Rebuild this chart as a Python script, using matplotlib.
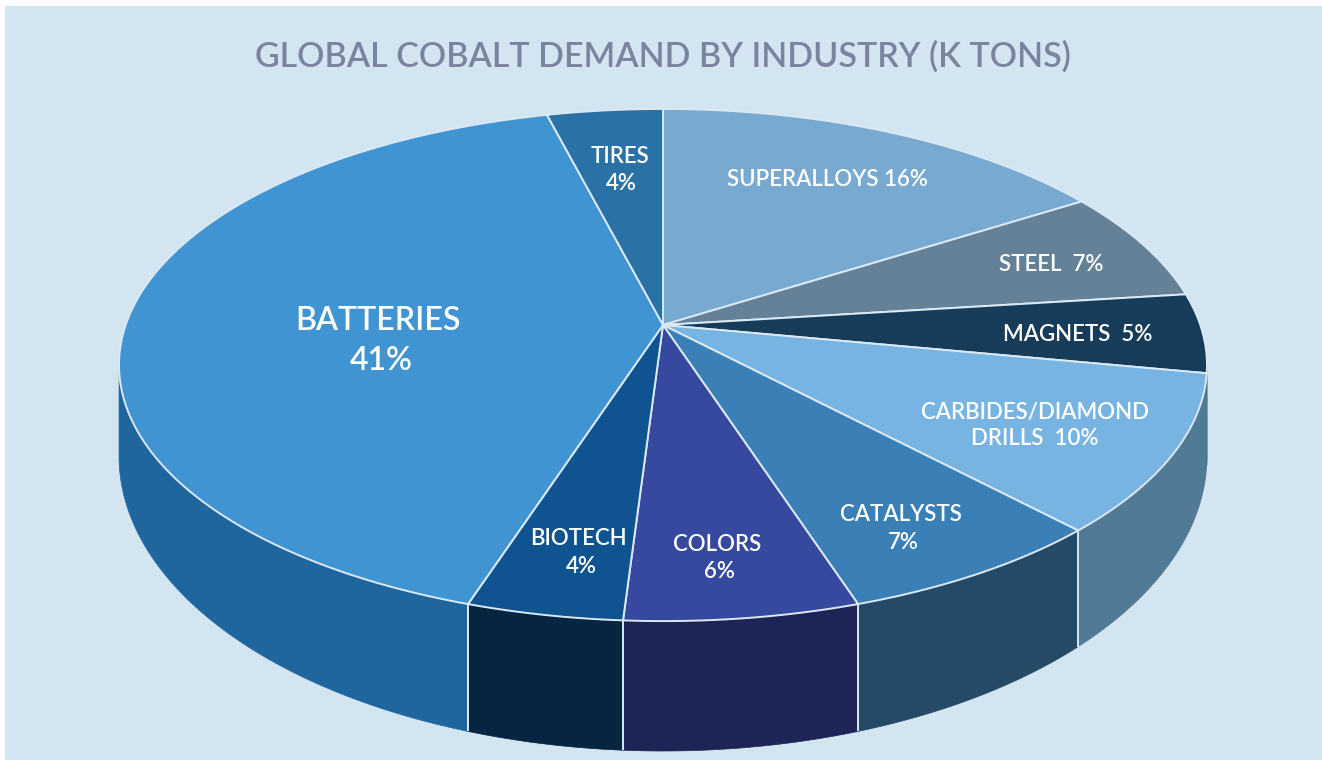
"""Global cobalt demand by industry: a pie seen in perspective, with a side wall."""
import matplotlib
matplotlib.use("Agg")
import matplotlib.pyplot as plt
import numpy as np
from matplotlib.patches import Polygon, Rectangle

plt.rcParams["font.family"] = ["Lato", "DejaVu Sans"]

# ── Data ─────────────────────────────────────────────────────────────────────
TITLE = "GLOBAL COBALT DEMAND BY INDUSTRY (K TONS)"
INDUSTRIES = ["Superalloys", "Steel", "Magnets", "Carbides/Diamond Drills",
              "Catalysts", "Colors", "Biotech", "Batteries", "Tires"]
SHARES = [16, 7, 5, 10, 7, 6, 4, 41, 4]

# ── Style ────────────────────────────────────────────────────────────────────
BG = "#D4E5F2"
EDGE = "#DAE8F3"
TOP_COLORS = ["#78A9D0", "#648198", "#163C59", "#78B4E2", "#3A80B7",
              "#37489F", "#0F5490", "#4094D2", "#2A71A6"]
WALL_COLORS = ["#78A9D0", "#648198", "#163C59", "#507A96", "#244A67",
               "#1C2555", "#052540", "#1F669F", "#2A71A6"]

# labels: text, x, y, size
SMALL, BIG = 16, 23
LABELS = [
    ("TIRES", 620, 156.5, SMALL), ("4%", 621, 183.5, SMALL),
    ("SUPERALLOYS 16%", 827.5, 179.5, SMALL),
    ("STEEL  7%", 1051, 264.5, SMALL),
    ("MAGNETS  5%", 1078, 334.5, SMALL),
    ("CARBIDES/DIAMOND", 1035, 412.5, SMALL), ("DRILLS  10%", 1035, 438.5, SMALL),
    ("CATALYSTS", 901, 514.5, SMALL), ("7%", 903, 542.5, SMALL),
    ("COLORS", 717, 544.5, SMALL), ("6%", 719, 571.5, SMALL),
    ("BIOTECH", 578, 538.5, SMALL), ("4%", 581, 566.5, SMALL),
    ("BATTERIES", 378, 321.5, BIG), ("41%", 381, 361.5, BIG),
]

# Perspective of the pie, in pixels of the 1322x760 picture
APEX_X, APEX_Y = 663, 325
K, SCALE_X, SCALE_Y = 0.1563, 537.3, 249.8
TOP_CY = 365
LOW_CY, LOW_B, LOW_A = 456, 295, 544


def project(frac):
    """Fraction of the circle, clockwise from 12 o'clock, to a rim point."""
    ang = 2 * np.pi * np.asarray(frac)
    u, v = np.sin(ang), np.cos(ang)
    den = 1 + K * v
    return APEX_X + SCALE_X * u / den, APEX_Y - SCALE_Y * v / den


def lower_rim(x):
    dx = np.clip((x - APEX_X) / LOW_A, -1, 1)
    return LOW_CY + LOW_B * np.sqrt(1 - dx ** 2)


fig = plt.figure(figsize=(13.22, 7.6), dpi=100, facecolor="white")
ax = fig.add_axes([0, 0, 1, 1])
ax.set_xlim(0, 1322)
ax.set_ylim(760, 0)
ax.axis("off")
ax.add_patch(Rectangle((5, 6), 1317, 754, facecolor=BG, edgecolor="none", zorder=0))

bounds = np.cumsum([0] + SHARES) / sum(SHARES)

# Side wall first, only where the rim lies below the middle of the ellipse
for i, name in enumerate(INDUSTRIES):
    fr = np.linspace(bounds[i], bounds[i + 1], 200)
    x, y = project(fr)
    keep = y >= TOP_CY
    if keep.sum() < 2:
        continue
    x, y = x[keep], y[keep]
    pts = np.column_stack([np.r_[x, x[::-1]], np.r_[y, lower_rim(x)[::-1]]])
    ax.add_patch(Polygon(pts, closed=True, facecolor=WALL_COLORS[i],
                         edgecolor=WALL_COLORS[i], lw=0.5, zorder=1))

# Seams between wall segments
for b in bounds[4:8]:
    sx, sy = project(b)
    ax.plot([sx, sx], [sy, lower_rim(sx)], color=EDGE, lw=1.4, zorder=2,
            solid_capstyle="butt")

# Top face
for i in range(len(SHARES)):
    fr = np.linspace(bounds[i], bounds[i + 1], 200)
    x, y = project(fr)
    pts = np.column_stack([np.r_[APEX_X, x], np.r_[APEX_Y, y]])
    ax.add_patch(Polygon(pts, closed=True, facecolor=TOP_COLORS[i], edgecolor=EDGE,
                         lw=1.4, joinstyle="miter", zorder=3))

ax.text(662.5, 56, TITLE, color="#7A849E", fontsize=24.5, fontweight="semibold",
        ha="center", va="center", zorder=5)
for text, x, y, size in LABELS:
    ax.text(x, y, text, color="white", fontsize=size, fontweight="semibold",
            ha="center", va="center", zorder=5)

fig.savefig("out.png", dpi=100, facecolor="white")
